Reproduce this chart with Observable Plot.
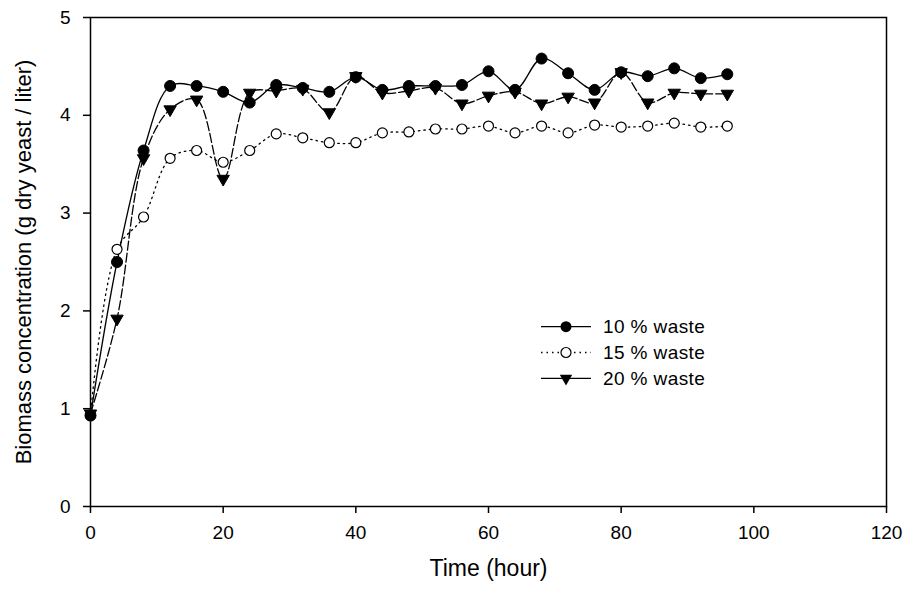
<!DOCTYPE html>
<html>
<head>
<meta charset="utf-8">
<script src="https://cdn.jsdelivr.net/npm/d3@7"></script>
<script src="https://cdn.jsdelivr.net/npm/@observablehq/plot@0.6"></script>
<style>
  html, body { margin: 0; padding: 0; background: #fff; }
  #wrap { position: relative; width: 912px; height: 592px; }
  #legend { position: absolute; left: 0; top: 0; pointer-events: none; }
</style>
</head>
<body>
<div id="wrap"></div>
<script>
// ---- data ----
const times = [0,4,8,12,16,20,24,28,32,36,40,44,48,52,56,60,64,68,72,76,80,84,88,92,96];
const waste10 = [0.93,2.50,3.64,4.30,4.30,4.24,4.13,4.31,4.28,4.24,4.39,4.26,4.30,4.30,4.31,4.45,4.26,4.58,4.43,4.26,4.44,4.40,4.48,4.38,4.42];
const waste15 = [0.93,2.63,2.96,3.56,3.64,3.52,3.64,3.81,3.77,3.72,3.72,3.82,3.83,3.86,3.86,3.89,3.82,3.89,3.82,3.90,3.88,3.89,3.92,3.88,3.89];
const waste20 = [0.95,1.92,3.56,4.06,4.16,3.35,4.23,4.25,4.27,4.03,4.40,4.23,4.25,4.28,4.12,4.20,4.24,4.12,4.19,4.13,4.44,4.13,4.23,4.22,4.22];
const seriesNames = ["10% waste", "15% waste", "20% waste"];
const legendLabels = ["10 % waste", "15 % waste", "20 % waste"];
const xTicks = [0,20,40,60,80,100,120];
const yTicks = [0,1,2,3,4,5];
const xTitle = "Time (hour)";
const yTitle = "Biomass concentration (g dry yeast / liter)";

const seriesValues = [waste10, waste15, waste20];
const rows = seriesNames.flatMap((name, i) =>
  times.map((t, j) => ({series: name, t, v: seriesValues[i][j]})));
const bySeries = name => rows.filter(d => d.series === name);

const font = "'Liberation Sans', Arial, sans-serif";

const chart = Plot.plot({
  width: 912,
  height: 592,
  marginLeft: 90,
  marginRight: 26,
  marginTop: 17,
  marginBottom: 86,
  style: {fontFamily: font, color: "#000", background: "#fff", overflow: "visible"},
  x: {domain: [0, 120], label: null},
  y: {domain: [0, 5], label: null},
  marks: [
    Plot.frame({stroke: "#000", strokeWidth: 1.5}),
    Plot.axisX({ticks: xTicks, tickFormat: d3.format("d"), tickSize: 7, tickPadding: 12, fontSize: 19, label: null, strokeWidth: 1.5}),
    Plot.axisY({ticks: yTicks, tickFormat: d3.format("d"), tickSize: 7, tickPadding: 13, fontSize: 19, label: null, strokeWidth: 1.5}),
    Plot.text([xTitle], {frameAnchor: "bottom", dy: 69, fontSize: 23, text: d => d, letterSpacing: "0.8px"}),
    Plot.text([yTitle], {frameAnchor: "left", textAnchor: "middle", dx: -67, rotate: -90, fontSize: 22, text: d => d, letterSpacing: "0.2px"}),
    // 15% dotted
    Plot.line(bySeries(seriesNames[1]), {x: "t", y: "v", curve: "catmull-rom", stroke: "#000", strokeWidth: 1.3, strokeDasharray: "1.5,4"}),
    // 20% dashed
    Plot.line(bySeries(seriesNames[2]), {x: "t", y: "v", curve: "catmull-rom", stroke: "#000", strokeWidth: 1.3, strokeDasharray: "9,3"}),
    // 10% solid
    Plot.line(bySeries(seriesNames[0]), {x: "t", y: "v", curve: "catmull-rom", stroke: "#000", strokeWidth: 1.3}),
    Plot.dot(bySeries(seriesNames[1]), {x: "t", y: "v", r: 5, fill: "#fff", stroke: "#000", strokeWidth: 1.2}),
    Plot.dot(bySeries(seriesNames[2]), {x: "t", y: "v", symbol: "triangle", rotate: 180, r: 4.6, fill: "#000", stroke: "#000", strokeWidth: 1}),
    Plot.dot(bySeries(seriesNames[0]), {x: "t", y: "v", r: 5.5, fill: "#000", stroke: "#000", strokeWidth: 1})
  ]
});
document.getElementById("wrap").appendChild(chart);

// ---- legend (overlay) ----
const lg = d3.select("#wrap").append("svg")
  .attr("id", "legend").attr("width", 912).attr("height", 592)
  .style("font-family", font);
const rowH = 25.8;
const items = lg.selectAll("g").data(legendLabels).join("g")
  .attr("transform", (d, i) => `translate(541, ${326.7 + i * rowH})`);
items.append("line").attr("x1", 0).attr("x2", 50).attr("y1", 0).attr("y2", 0)
  .attr("stroke", "#000").attr("stroke-width", 1.3)
  .attr("stroke-dasharray", (d, i) => i === 1 ? "1.5,4" : null);
items.each(function(d, i) {
  const g = d3.select(this);
  if (i === 0) g.append("circle").attr("cx", 25).attr("r", 5.5).attr("fill", "#000");
  if (i === 1) g.append("circle").attr("cx", 25).attr("r", 5).attr("fill", "#fff").attr("stroke", "#000").attr("stroke-width", 1.2);
  if (i === 2) g.append("path").attr("d", d3.symbol(d3.symbolTriangle, 4.6 * 4.6 * Math.PI)()).attr("transform", "translate(25,0) rotate(180)").attr("fill", "#000");
});
items.append("text").attr("x", 62).attr("dy", "0.35em").attr("font-size", 19)
  .attr("letter-spacing", "0.4px").text(d => d);
</script>
</body>
</html>
